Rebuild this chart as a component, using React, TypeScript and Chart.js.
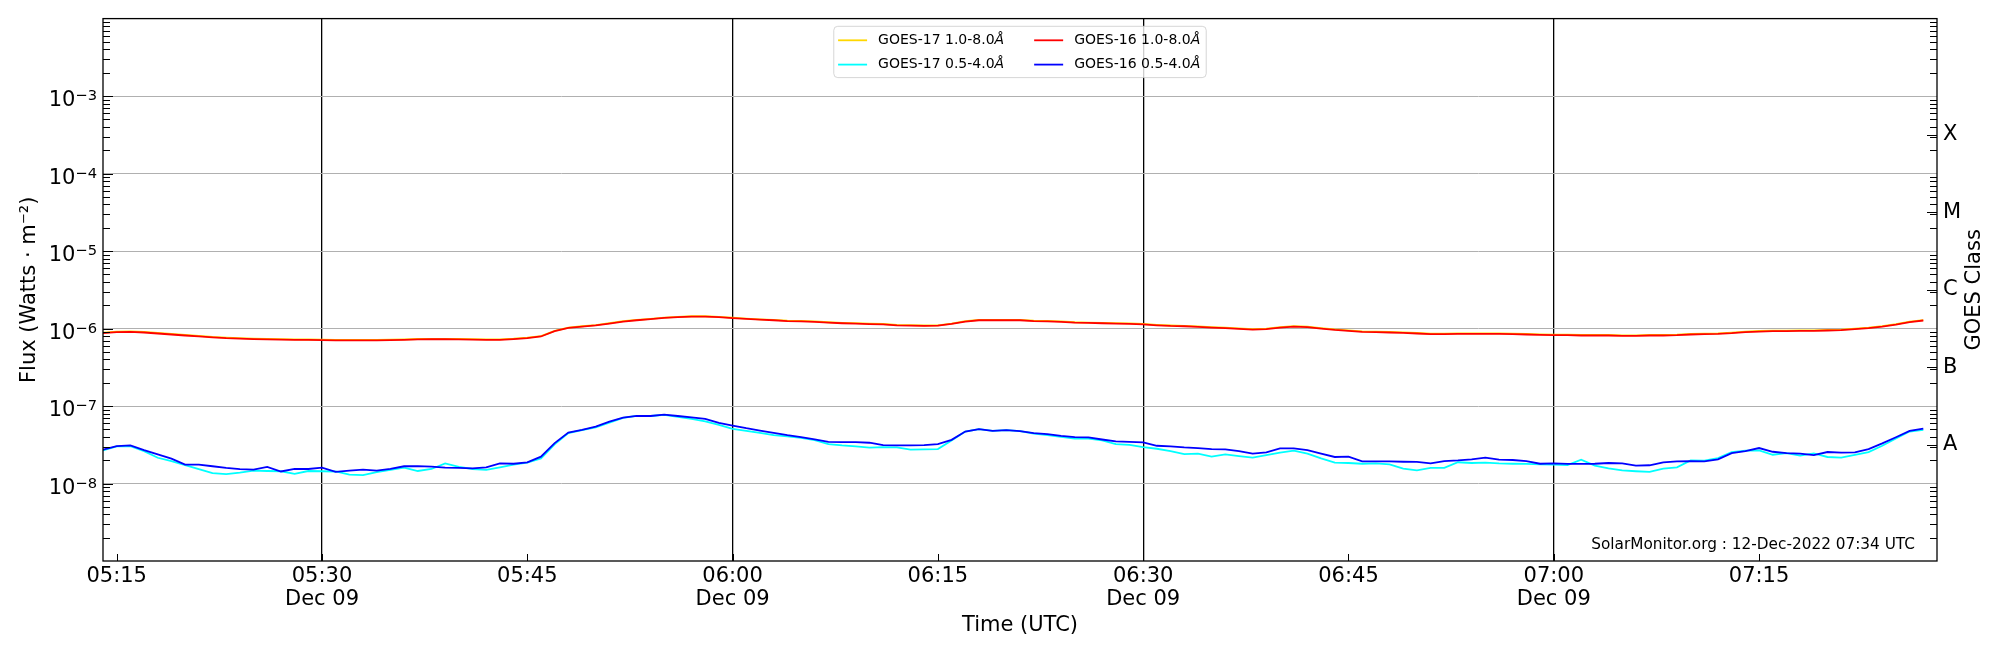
import React, { useEffect, useRef } from "react";
import Chart from "chart.js/auto";

// one-minute samples, 09 Dec 2022
const times = [
  "05:14", "05:15", "05:16", "05:17", "05:18", "05:19", "05:20", "05:21", "05:22", "05:23",
  "05:24", "05:25", "05:26", "05:27", "05:28", "05:29", "05:30", "05:31", "05:32", "05:33",
  "05:34", "05:35", "05:36", "05:37", "05:38", "05:39", "05:40", "05:41", "05:42", "05:43",
  "05:44", "05:45", "05:46", "05:47", "05:48", "05:49", "05:50", "05:51", "05:52", "05:53",
  "05:54", "05:55", "05:56", "05:57", "05:58", "05:59",
  "06:00", "06:01", "06:02", "06:03", "06:04", "06:05", "06:06", "06:07", "06:08", "06:09",
  "06:10", "06:11", "06:12", "06:13", "06:14", "06:15", "06:16", "06:17", "06:18", "06:19",
  "06:20", "06:21", "06:22", "06:23", "06:24", "06:25", "06:26", "06:27", "06:28", "06:29",
  "06:30", "06:31", "06:32", "06:33", "06:34", "06:35", "06:36", "06:37", "06:38", "06:39",
  "06:40", "06:41", "06:42", "06:43", "06:44", "06:45", "06:46", "06:47", "06:48", "06:49",
  "06:50", "06:51", "06:52", "06:53", "06:54", "06:55", "06:56", "06:57", "06:58", "06:59",
  "07:00", "07:01", "07:02", "07:03", "07:04", "07:05", "07:06", "07:07", "07:08", "07:09",
  "07:10", "07:11", "07:12", "07:13", "07:14", "07:15", "07:16", "07:17", "07:18", "07:19",
  "07:20", "07:21", "07:22", "07:23", "07:24", "07:25", "07:26", "07:27",
];

const goes17Long = [
  8.85e-7, 9.12e-7, 9.22e-7, 9.05e-7, 8.8e-7, 8.55e-7, 8.3e-7, 8.05e-7, 7.8e-7, 7.63e-7,
  7.53e-7, 7.41e-7, 7.33e-7, 7.29e-7, 7.26e-7, 7.22e-7, 7.19e-7, 7.15e-7, 7.12e-7, 7.12e-7,
  7.15e-7, 7.19e-7, 7.26e-7, 7.33e-7, 7.37e-7, 7.37e-7, 7.33e-7, 7.29e-7, 7.26e-7, 7.26e-7,
  7.4e-7, 7.62e-7, 8.0e-7, 9.3e-7, 1.03e-6, 1.07e-6, 1.11e-6, 1.175e-6, 1.245e-6, 1.295e-6,
  1.335e-6, 1.385e-6, 1.415e-6, 1.44e-6, 1.44e-6, 1.415e-6,
  1.38e-6, 1.345e-6, 1.315e-6, 1.295e-6, 1.265e-6, 1.255e-6, 1.235e-6, 1.205e-6, 1.185e-6, 1.175e-6,
  1.155e-6, 1.145e-6, 1.115e-6, 1.105e-6, 1.095e-6, 1.1e-6, 1.16e-6, 1.245e-6, 1.295e-6, 1.295e-6,
  1.295e-6, 1.295e-6, 1.265e-6, 1.255e-6, 1.235e-6, 1.205e-6, 1.195e-6, 1.185e-6, 1.175e-6, 1.165e-6,
  1.145e-6, 1.115e-6, 1.095e-6, 1.085e-6, 1.065e-6, 1.045e-6, 1.025e-6, 1.005e-6, 9.85e-7, 9.95e-7,
  1.04e-6, 1.075e-6, 1.055e-6, 1.015e-6, 9.75e-7, 9.47e-7, 9.2e-7, 9.1e-7, 9.02e-7, 8.93e-7,
  8.76e-7, 8.59e-7, 8.58e-7, 8.66e-7, 8.66e-7, 8.67e-7, 8.66e-7, 8.59e-7, 8.5e-7, 8.42e-7,
  8.33e-7, 8.33e-7, 8.25e-7, 8.25e-7, 8.25e-7, 8.17e-7, 8.17e-7, 8.25e-7, 8.26e-7, 8.34e-7,
  8.5e-7, 8.59e-7, 8.67e-7, 8.85e-7, 9.1e-7, 9.29e-7, 9.38e-7, 9.38e-7, 9.47e-7, 9.47e-7,
  9.57e-7, 9.66e-7, 9.95e-7, 1.025e-6, 1.075e-6, 1.14e-6, 1.225e-6, 1.285e-6,
];

const goes17Short = [
  2.67e-8, 3.01e-8, 3.03e-8, 2.62e-8, 2.15e-8, 1.95e-8, 1.73e-8, 1.53e-8, 1.36e-8, 1.32e-8,
  1.38e-8, 1.47e-8, 1.45e-8, 1.44e-8, 1.33e-8, 1.45e-8, 1.44e-8, 1.43e-8, 1.3e-8, 1.28e-8,
  1.4e-8, 1.5e-8, 1.6e-8, 1.45e-8, 1.54e-8, 1.82e-8, 1.64e-8, 1.54e-8, 1.5e-8, 1.62e-8,
  1.75e-8, 1.86e-8, 2.11e-8, 3.2e-8, 4.47e-8, 4.88e-8, 5.32e-8, 6.11e-8, 7.02e-8, 7.44e-8,
  7.44e-8, 7.67e-8, 7.23e-8, 6.81e-8, 6.36e-8, 5.71e-8,
  5.07e-8, 4.78e-8, 4.51e-8, 4.21e-8, 4.05e-8, 3.89e-8, 3.63e-8, 3.23e-8, 3.1e-8, 3.01e-8,
  2.9e-8, 2.95e-8, 2.92e-8, 2.73e-8, 2.75e-8, 2.78e-8, 3.6e-8, 4.69e-8, 5.02e-8, 4.78e-8,
  4.88e-8, 4.73e-8, 4.42e-8, 4.21e-8, 4.01e-8, 3.81e-8, 3.81e-8, 3.6e-8, 3.23e-8, 3.16e-8,
  2.95e-8, 2.81e-8, 2.62e-8, 2.4e-8, 2.43e-8, 2.22e-8, 2.38e-8, 2.26e-8, 2.16e-8, 2.33e-8,
  2.5e-8, 2.65e-8, 2.43e-8, 2.11e-8, 1.86e-8, 1.84e-8, 1.8e-8, 1.82e-8, 1.77e-8, 1.56e-8,
  1.48e-8, 1.59e-8, 1.59e-8, 1.88e-8, 1.84e-8, 1.86e-8, 1.82e-8, 1.8e-8, 1.79e-8, 1.77e-8,
  1.75e-8, 1.73e-8, 2.03e-8, 1.7e-8, 1.57e-8, 1.48e-8, 1.44e-8, 1.41e-8, 1.56e-8, 1.62e-8,
  1.99e-8, 1.97e-8, 2.13e-8, 2.55e-8, 2.65e-8, 2.68e-8, 2.35e-8, 2.47e-8, 2.29e-8, 2.45e-8,
  2.2e-8, 2.16e-8, 2.35e-8, 2.55e-8, 3.07e-8, 3.81e-8, 4.69e-8, 4.92e-8,
];

const goes16Long = [
  8.71e-7, 8.97e-7, 9.06e-7, 8.89e-7, 8.63e-7, 8.38e-7, 8.13e-7, 7.9e-7, 7.67e-7, 7.51e-7,
  7.42e-7, 7.3e-7, 7.23e-7, 7.19e-7, 7.16e-7, 7.12e-7, 7.09e-7, 7.05e-7, 7.02e-7, 7.02e-7,
  7.05e-7, 7.09e-7, 7.16e-7, 7.23e-7, 7.27e-7, 7.27e-7, 7.23e-7, 7.19e-7, 7.16e-7, 7.16e-7,
  7.3e-7, 7.51e-7, 7.9e-7, 9.24e-7, 1.02e-6, 1.06e-6, 1.1e-6, 1.16e-6, 1.23e-6, 1.28e-6,
  1.32e-6, 1.37e-6, 1.4e-6, 1.425e-6, 1.425e-6, 1.4e-6,
  1.36e-6, 1.33e-6, 1.3e-6, 1.28e-6, 1.25e-6, 1.24e-6, 1.22e-6, 1.19e-6, 1.17e-6, 1.16e-6,
  1.14e-6, 1.13e-6, 1.1e-6, 1.09e-6, 1.08e-6, 1.09e-6, 1.15e-6, 1.23e-6, 1.28e-6, 1.28e-6,
  1.28e-6, 1.28e-6, 1.25e-6, 1.24e-6, 1.22e-6, 1.19e-6, 1.18e-6, 1.17e-6, 1.16e-6, 1.15e-6,
  1.13e-6, 1.1e-6, 1.08e-6, 1.07e-6, 1.05e-6, 1.03e-6, 1.01e-6, 9.9e-7, 9.71e-7, 9.81e-7,
  1.03e-6, 1.06e-6, 1.04e-6, 1.0e-6, 9.61e-7, 9.33e-7, 9.06e-7, 8.97e-7, 8.89e-7, 8.8e-7,
  8.63e-7, 8.46e-7, 8.46e-7, 8.54e-7, 8.54e-7, 8.54e-7, 8.54e-7, 8.46e-7, 8.38e-7, 8.29e-7,
  8.21e-7, 8.21e-7, 8.13e-7, 8.13e-7, 8.13e-7, 8.05e-7, 8.05e-7, 8.13e-7, 8.13e-7, 8.21e-7,
  8.38e-7, 8.46e-7, 8.54e-7, 8.71e-7, 8.97e-7, 9.15e-7, 9.24e-7, 9.24e-7, 9.33e-7, 9.33e-7,
  9.43e-7, 9.52e-7, 9.81e-7, 1.01e-6, 1.06e-6, 1.125e-6, 1.21e-6, 1.27e-6,
];

const goes16Short = [
  2.73e-8, 3.04e-8, 3.1e-8, 2.7e-8, 2.38e-8, 2.09e-8, 1.75e-8, 1.75e-8, 1.67e-8, 1.59e-8,
  1.53e-8, 1.51e-8, 1.64e-8, 1.43e-8, 1.54e-8, 1.54e-8, 1.6e-8, 1.41e-8, 1.47e-8, 1.51e-8,
  1.47e-8, 1.54e-8, 1.67e-8, 1.68e-8, 1.65e-8, 1.6e-8, 1.59e-8, 1.57e-8, 1.62e-8, 1.82e-8,
  1.8e-8, 1.88e-8, 2.22e-8, 3.32e-8, 4.55e-8, 4.92e-8, 5.43e-8, 6.3e-8, 7.08e-8, 7.44e-8,
  7.44e-8, 7.74e-8, 7.44e-8, 7.16e-8, 6.81e-8, 6.05e-8,
  5.6e-8, 5.17e-8, 4.83e-8, 4.51e-8, 4.21e-8, 3.97e-8, 3.7e-8, 3.45e-8, 3.42e-8, 3.42e-8,
  3.36e-8, 3.13e-8, 3.1e-8, 3.1e-8, 3.13e-8, 3.23e-8, 3.66e-8, 4.69e-8, 5.02e-8, 4.78e-8,
  4.88e-8, 4.73e-8, 4.47e-8, 4.34e-8, 4.12e-8, 3.96e-8, 3.93e-8, 3.7e-8, 3.49e-8, 3.45e-8,
  3.39e-8, 3.07e-8, 3.01e-8, 2.92e-8, 2.87e-8, 2.78e-8, 2.75e-8, 2.62e-8, 2.43e-8, 2.52e-8,
  2.84e-8, 2.84e-8, 2.7e-8, 2.43e-8, 2.2e-8, 2.22e-8, 1.93e-8, 1.93e-8, 1.93e-8, 1.91e-8,
  1.9e-8, 1.82e-8, 1.95e-8, 1.99e-8, 2.05e-8, 2.16e-8, 2.03e-8, 2.01e-8, 1.95e-8, 1.8e-8,
  1.82e-8, 1.79e-8, 1.79e-8, 1.8e-8, 1.84e-8, 1.82e-8, 1.7e-8, 1.72e-8, 1.88e-8, 1.93e-8,
  1.95e-8, 1.93e-8, 2.05e-8, 2.47e-8, 2.62e-8, 2.87e-8, 2.57e-8, 2.47e-8, 2.43e-8, 2.33e-8,
  2.55e-8, 2.5e-8, 2.52e-8, 2.78e-8, 3.29e-8, 3.96e-8, 4.78e-8, 5.12e-8,
];

const xStart = "05:14";
const xEnd = "07:28";
const xTickTimes = ["05:15", "05:30", "05:45", "06:00", "06:15", "06:30", "06:45", "07:00", "07:15"];
const xTickDates = ["", "Dec 09", "", "Dec 09", "", "Dec 09", "", "Dec 09", ""];

const yTickValues = [1e-8, 1e-7, 1e-6, 1e-5, 1e-4, 1e-3];
const yTickBase = "10";
const yTickExponents = ["−8", "−7", "−6", "−5", "−4", "−3"];

const classLevels = [3.162e-8, 3.162e-7, 3.162e-6, 3.162e-5, 3.162e-4];
const classLabels = ["A", "B", "C", "M", "X"];

const watermark = "SolarMonitor.org : 12-Dec-2022 07:34 UTC";
const FONT = "'DejaVu Sans', sans-serif";

const toMinutes = (t: string) => {
  const [h, m] = t.split(":").map(Number);
  return h * 60 + m;
};

const series = [
  { label: "GOES-17 1.0-8.0Å", values: goes17Long, color: "#ffd700", order: 2 },
  { label: "GOES-17 0.5-4.0Å", values: goes17Short, color: "#00ffff", order: 2 },
  { label: "GOES-16 1.0-8.0Å", values: goes16Long, color: "#ff0000", order: 1 },
  { label: "GOES-16 0.5-4.0Å", values: goes16Short, color: "#0000ff", order: 1 },
];

const hline = (ctx: CanvasRenderingContext2D, x1: number, x2: number, y: number) => {
  ctx.beginPath();
  ctx.moveTo(x1, y);
  ctx.lineTo(x2, y);
  ctx.stroke();
};

const overlay = {
  id: "overlay",
  afterDraw(chart: any) {
    const { ctx, chartArea: a, scales } = chart;
    const y = scales.y;
    const x = scales.x;
    ctx.save();
    ctx.strokeStyle = "#000";
    ctx.lineWidth = 1;

    // minor ticks, both sides, inward
    for (let n = -9; n < -2; n++) {
      for (let k = 2; k < 10; k++) {
        const p = Math.round(y.getPixelForValue(k * Math.pow(10, n))) + 0.5;
        hline(ctx, a.left, a.left + 7, p);
        hline(ctx, a.right, a.right - 7, p);
      }
    }
    yTickValues.forEach((v) => {
      const p = Math.round(y.getPixelForValue(v)) + 0.5;
      hline(ctx, a.left, a.left + 10, p);
    });
    classLevels.forEach((v) => {
      const p = Math.round(y.getPixelForValue(v)) + 0.5;
      hline(ctx, a.right, a.right - 10, p);
    });
    xTickTimes.forEach((t) => {
      const p = Math.round(x.getPixelForValue(toMinutes(t))) + 0.5;
      ctx.beginPath();
      ctx.moveTo(p, a.bottom);
      ctx.lineTo(p, a.bottom - 7);
      ctx.stroke();
    });

    ctx.lineWidth = 1.3;
    ctx.strokeRect(a.left, a.top, a.right - a.left, a.bottom - a.top);

    // y tick labels as 10 with a raised exponent
    ctx.fillStyle = "#000";
    ctx.textAlign = "right";
    ctx.textBaseline = "alphabetic";
    yTickValues.forEach((v, i) => {
      const p = y.getPixelForValue(v);
      const xr = a.left - 6;
      ctx.font = `14.7px ${FONT}`;
      const ew = ctx.measureText(yTickExponents[i]).width;
      ctx.fillText(yTickExponents[i], xr, p + 4.3);
      ctx.font = `21px ${FONT}`;
      ctx.fillText(yTickBase, xr - ew, p + 10);
    });

    // stamp
    ctx.font = `15.3px ${FONT}`;
    ctx.fillText(watermark, a.right - 22, a.bottom - 12);

    // right axis title, reads bottom to top
    ctx.save();
    ctx.translate(a.right + 38, (a.top + a.bottom) / 2);
    ctx.rotate(-Math.PI / 2);
    ctx.font = `21px ${FONT}`;
    ctx.textAlign = "center";
    ctx.textBaseline = "middle";
    ctx.fillText("GOES Class", 0, 0);
    ctx.restore();

    // legend, two columns
    const ds = chart.data.datasets;
    const parts = ds.map((d: any) => {
      const main = d.label.slice(0, -1);
      const tail = d.label.slice(-1);
      ctx.font = `14px ${FONT}`;
      const mw = ctx.measureText(main).width;
      ctx.font = `italic 14px ${FONT}`;
      const tw = ctx.measureText(tail).width;
      return { main, tail, mw, w: mw + tw };
    });
    const textW = Math.max(...parts.map((p: any) => p.w));
    const colW = 29 + 11 + textW;
    const w = 4.3 + colW + 30 + colW + 6;
    const h = 51.3;
    const left = (a.left + a.right) / 2 - w / 2;
    const top = a.top + 7.7;
    ctx.beginPath();
    if (ctx.roundRect) ctx.roundRect(left, top, w, h, 4);
    else ctx.rect(left, top, w, h);
    ctx.fillStyle = "rgba(255,255,255,0.8)";
    ctx.fill();
    ctx.strokeStyle = "rgba(204,204,204,0.8)";
    ctx.lineWidth = 1;
    ctx.stroke();
    ds.forEach((d: any, i: number) => {
      const col = Math.floor(i / 2);
      const row = i % 2;
      const x0 = left + 4.3 + col * (colW + 30);
      const yc = top + 14 + row * 24.3;
      ctx.strokeStyle = d.borderColor;
      ctx.lineWidth = 1.8;
      hline(ctx, x0, x0 + 29, yc);
      ctx.fillStyle = "#000";
      ctx.textAlign = "left";
      ctx.textBaseline = "middle";
      ctx.font = `14px ${FONT}`;
      ctx.fillText(parts[i].main, x0 + 40, yc);
      ctx.font = `italic 14px ${FONT}`;
      ctx.fillText(parts[i].tail, x0 + 40 + parts[i].mw, yc);
    });
    ctx.restore();
  },
};

export default function App() {
  const canvasRef = useRef<HTMLCanvasElement | null>(null);

  useEffect(() => {
    document.body.style.margin = "0";
    if (!canvasRef.current) return;

    Chart.defaults.font.family = FONT;
    Chart.defaults.color = "#000";

    const chart = new Chart(canvasRef.current, {
      type: "line",
      data: {
        datasets: series.map((s) => ({
          label: s.label,
          data: s.values.map((v, i) => ({ x: toMinutes(times[i]), y: v })),
          borderColor: s.color,
          backgroundColor: s.color,
          borderWidth: 1.8,
          pointRadius: 0,
          tension: 0,
          order: s.order,
        })),
      },
      options: {
        responsive: false,
        devicePixelRatio: 1,
        animation: false,
        layout: { padding: { top: 15, left: 0, right: 0, bottom: 0 } },
        plugins: { legend: { display: false }, tooltip: { enabled: false } },
        scales: {
          x: {
            type: "linear",
            min: toMinutes(xStart),
            max: toMinutes(xEnd),
            afterBuildTicks: (s: any) => {
              s.ticks = xTickTimes.map((t) => ({ value: toMinutes(t) }));
            },
            afterFit: (s: any) => {
              s.height = 89;
            },
            ticks: {
              autoSkip: false,
              maxRotation: 0,
              padding: 4,
              font: { size: 21, lineHeight: 1.1 },
              color: "#000",
              callback: (_v: any, i: number) =>
                xTickDates[i] ? [xTickTimes[i], xTickDates[i]] : xTickTimes[i],
            },
            grid: {
              drawTicks: false,
              lineWidth: 1.3,
              color: (c: any) => (xTickDates[c.index] ? "#000" : "rgba(0,0,0,0)"),
            },
            border: { display: false },
            title: {
              display: true,
              text: "Time (UTC)",
              font: { size: 21 },
              color: "#000",
              padding: { top: 0, bottom: 11.5 },
            },
          },
          y: {
            type: "logarithmic",
            position: "left",
            min: 1e-9,
            max: 1e-2,
            afterBuildTicks: (s: any) => {
              s.ticks = yTickValues.map((v) => ({ value: v }));
            },
            afterFit: (s: any) => {
              s.width = 103;
            },
            ticks: { display: false },
            grid: { drawTicks: false, color: "#b0b0b0", lineWidth: 1 },
            border: { display: false },
            title: {
              display: true,
              text: "Flux (Watts · m⁻²)",
              font: { size: 21 },
              color: "#000",
              padding: { top: 16.5, bottom: 0 },
            },
          },
          y2: {
            type: "logarithmic",
            position: "right",
            min: 1e-9,
            max: 1e-2,
            afterBuildTicks: (s: any) => {
              s.ticks = classLevels.map((v) => ({ value: v }));
            },
            afterFit: (s: any) => {
              s.width = 63;
            },
            ticks: {
              autoSkip: false,
              padding: 6,
              font: { size: 21 },
              color: "#000",
              callback: (_v: any, i: number) => classLabels[i],
            },
            grid: { display: false, drawTicks: false },
            border: { display: false },
          },
        },
      },
      plugins: [overlay],
    });

    return () => chart.destroy();
  }, []);

  return (
    <div style={{ width: 2000, height: 650 }}>
      <canvas ref={canvasRef} width={2000} height={650} style={{ display: "block" }}></canvas>
    </div>
  );
}
